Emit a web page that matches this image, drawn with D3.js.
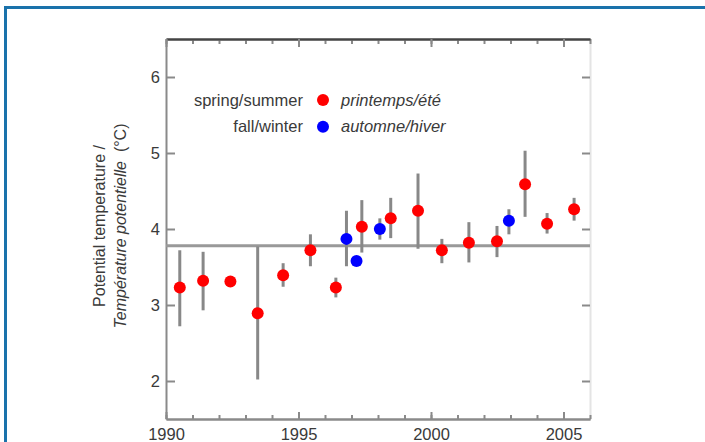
<!DOCTYPE html>
<html>
<head>
<meta charset="utf-8">
<script src="https://cdn.jsdelivr.net/npm/d3@7"></script>
<style>
  body { margin: 0; background: #fff; }
  svg { display: block; font-family: "Liberation Sans", Arial, Helvetica, sans-serif; }
</style>
</head>
<body>
<svg id="chart" width="705" height="442"></svg>
<script>
// spring/summer surveys (red)
const springYears = [1990.52, 1991.40, 1992.43, 1993.46, 1994.42, 1995.45, 1996.41, 1997.39,
                     1998.48, 1999.51, 2000.41, 2001.43, 2002.49, 2003.55, 2004.38, 2005.40];
const springTemp  = [3.23, 3.32, 3.31, 2.89, 3.39, 3.72, 3.23, 4.03, 4.14, 4.24, 3.72, 3.82, 3.84, 4.59, 4.07, 4.26];
const springLow   = [2.72, 2.93, 3.27, 2.02, 3.24, 3.51, 3.10, 3.69, 3.88, 3.74, 3.55, 3.56, 3.63, 4.16, 3.94, 4.11];
const springHigh  = [3.72, 3.70, 3.35, 3.77, 3.55, 3.93, 3.36, 4.38, 4.41, 4.73, 3.87, 4.09, 4.04, 5.03, 4.21, 4.41];

// fall/winter surveys (blue)
const fallYears = [1996.81, 1997.19, 1998.07, 2002.94];
const fallTemp  = [3.87, 3.58, 4.00, 4.11];
const fallLow   = [3.51, 3.55, 3.86, 3.93];
const fallHigh  = [4.24, 3.61, 4.14, 4.26];

// long term mean
const meanTemp = 3.78;

// axis ticks
const xMajorTicks = [1990, 1995, 2000, 2005];
const xMinorTicks = d3.range(1990, 2007);
const yTicks = [2, 3, 4, 5, 6];

// legend
const legendEn = ["spring/summer", "fall/winter"];
const legendFr = ["printemps/été", "automne/hiver"];
const legendColors = ["#ff0000", "#0000ff"];

const svg = d3.select("#chart");

// blue frame round the figure
svg.append("rect")
  .attr("x", 5.5).attr("y", 7.5)
  .attr("width", 720).attr("height", 460)
  .attr("fill", "none")
  .attr("stroke", "#1a72ab")
  .attr("stroke-width", 3);

const x = d3.scaleLinear().domain([1990, 2006]).range([166, 590]);
const y = d3.scaleLinear().domain([1.5, 6.5]).range([419, 39]);

const axisColor = "#8a8a8a";

function styleAxis(g, domainColor) {
  g.select(".domain").attr("stroke", domainColor).attr("stroke-width", 2);
  g.selectAll(".tick line").attr("stroke", axisColor).attr("stroke-width", 2);
  g.selectAll(".tick text").attr("fill", "#3a3a3a").attr("font-size", 16.5);
}

// right edge (faint)
svg.append("g")
  .attr("transform", "translate(590,0)")
  .call(d3.axisRight(y).tickValues(yTicks).tickSize(-8).tickSizeOuter(0).tickFormat(""))
  .call(g => styleAxis(g, "#e4e4e4"));

// top frame
svg.append("g")
  .attr("transform", "translate(0,39)")
  .call(d3.axisTop(x).tickValues(xMinorTicks).tickSize(-5).tickSizeOuter(0).tickFormat(""))
  .call(g => styleAxis(g, "#444"));
svg.append("g")
  .attr("transform", "translate(0,39)")
  .call(d3.axisTop(x).tickValues(xMajorTicks).tickSize(-8).tickSizeOuter(0).tickFormat(""))
  .call(g => styleAxis(g, "#444"));

// bottom axis
svg.append("g")
  .attr("transform", "translate(0,419)")
  .call(d3.axisBottom(x).tickValues(xMinorTicks).tickSize(-4).tickSizeOuter(0).tickFormat(""))
  .call(g => styleAxis(g, axisColor));
svg.append("g")
  .attr("transform", "translate(0,419)")
  .call(d3.axisBottom(x).tickValues(xMajorTicks).tickSize(-7).tickSizeOuter(0).tickPadding(9).tickFormat(d3.format("d")))
  .call(g => styleAxis(g, axisColor));

// left axis
svg.append("g")
  .attr("transform", "translate(166,0)")
  .call(d3.axisLeft(y).tickValues(yTicks).tickSize(-9).tickSizeOuter(0).tickPadding(6).tickFormat(d3.format("d")))
  .call(g => styleAxis(g, axisColor));

// y label, two lines
const lab = svg.append("g")
  .attr("transform", "translate(105,226) rotate(-90)")
  .attr("fill", "#3a3a3a")
  .attr("font-size", 16)
  .attr("text-anchor", "middle");
lab.append("text").attr("y", 0).text("Potential temperature /");
const l2 = lab.append("text").attr("y", 21);
l2.append("tspan").attr("font-style", "italic").text("Température potentielle");
l2.append("tspan").text("\u00a0\u00a0(°C)");

// mean line
svg.append("line")
  .attr("x1", x(1990)).attr("x2", x(2006))
  .attr("y1", y(meanTemp)).attr("y2", y(meanTemp))
  .attr("stroke", "#999").attr("stroke-width", 3);

const spring = springYears.map((yr, i) => ({ yr, t: springTemp[i], lo: springLow[i], hi: springHigh[i] }));
const fall = fallYears.map((yr, i) => ({ yr, t: fallTemp[i], lo: fallLow[i], hi: fallHigh[i] }));

function drawSeries(data, color) {
  svg.append("g").selectAll("line")
    .data(data)
    .join("line")
      .attr("x1", d => x(d.yr)).attr("x2", d => x(d.yr))
      .attr("y1", d => y(d.lo)).attr("y2", d => y(d.hi))
      .attr("stroke", "#888").attr("stroke-width", 3);
  svg.append("g").selectAll("circle")
    .data(data)
    .join("circle")
      .attr("cx", d => x(d.yr))
      .attr("cy", d => y(d.t))
      .attr("r", 6)
      .attr("fill", color);
}
drawSeries(spring, legendColors[0]);
drawSeries(fall, legendColors[1]);

// legend
const leg = svg.append("g").attr("font-size", 16.5).attr("fill", "#3a3a3a");
legendEn.forEach((t, i) => {
  const ly = 100 + i * 26.7;
  leg.append("text").attr("x", 303).attr("y", ly).attr("dy", "0.35em")
    .attr("text-anchor", "end").text(t);
  leg.append("circle").attr("cx", 323).attr("cy", ly).attr("r", 6).attr("fill", legendColors[i]);
  leg.append("text").attr("x", 341).attr("y", ly).attr("dy", "0.35em")
    .attr("font-style", "italic").text(legendFr[i]);
});
</script>
</body>
</html>
